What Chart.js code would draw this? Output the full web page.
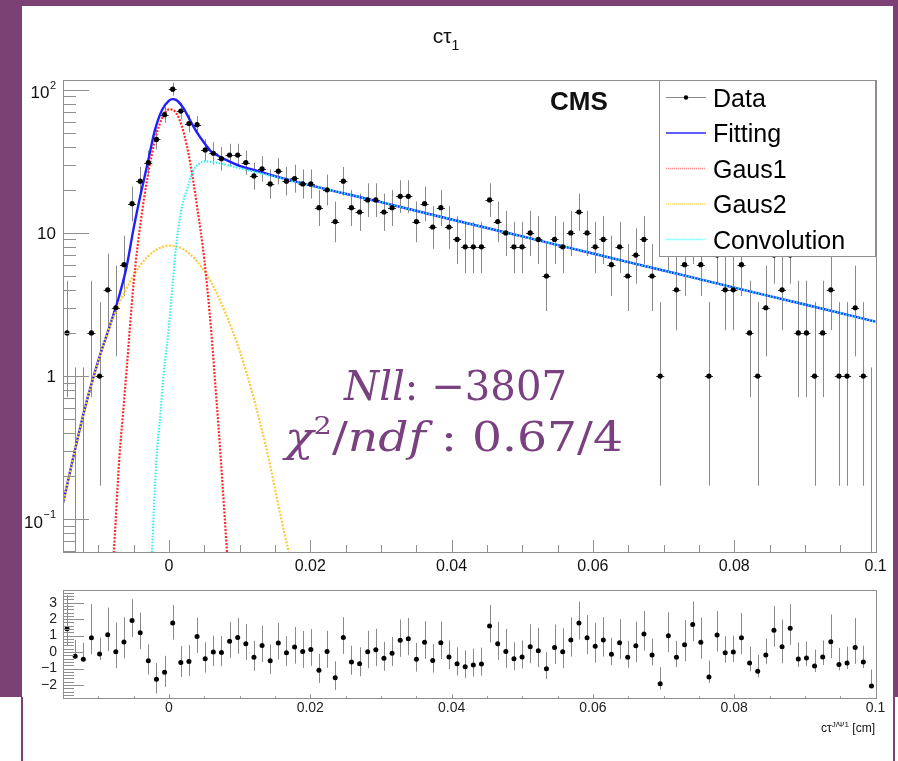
<!DOCTYPE html>
<html>
<head>
<meta charset="utf-8">
<script src="https://cdn.jsdelivr.net/npm/chart.js@4.4.1/dist/chart.umd.min.js"></script>
<style>
  body { margin: 0; width: 898px; height: 761px; overflow: hidden; position: relative; background: #fff; }
  .border { position: absolute; background: #7b4175; }
  canvas { position: absolute; left: 0; }
  #main { top: 0; }
  #pull { top: 586px; }
</style>
</head>
<body>
<div class="border" style="left:0;top:0;width:898px;height:6px"></div>
<div class="border" style="left:0;top:0;width:22px;height:697px"></div>
<div class="border" style="left:893px;top:0;width:5px;height:697px"></div>
<div class="border" style="left:21px;top:697px;width:2px;height:64px"></div>
<div class="border" style="left:893px;top:697px;width:2px;height:64px"></div>
<canvas id="main" width="898" height="586"></canvas>
<canvas id="pull" width="898" height="175"></canvas>
<script>
// binning of the histogram
const xMin = -0.015;
const xMax = 0.1;
const binWidth = 0.00115;

// counts per bin (100 bins)
const counts = [2, 0, 0, 2, 1, 4, 3, 6, 16, 23,
  31, 45, 67, 101, 71, 58, 57, 38, 36, 33,
  35, 35, 31, 25, 28, 22, 27, 23, 24, 22,
  22, 15, 20, 12, 23, 15, 14, 17, 17, 14,
  15, 18, 18, 12, 16, 11, 15, 11, 9, 8,
  8, 8, 17, 12, 10, 8, 8, 10, 9, 5,
  9, 8, 10, 14, 10, 8, 9, 6, 8, 5,
  7, 9, 5, 1, 8, 4, 6, 9, 6, 1,
  7, 4, 4, 6, 2, 1, 3, 7, 4, 7,
  2, 2, 1, 2, 4, 1, 1, 3, 1, 0];

// pull per bin
const pulls = [1.41, -0.26, -0.44, 0.87, -0.12, 1.05, 0.02, 0.61, 1.92, 1.17,
  -0.53, -1.66, -1.23, 1.76, -0.63, -0.57, 0.95, -0.40, 0.00, -0.02,
  0.65, 0.89, 0.51, -0.32, 0.40, -0.53, 0.55, -0.04, 0.30, 0.04,
  0.16, -1.11, 0.04, -1.56, 0.89, -0.61, -0.71, 0.02, 0.14, -0.38,
  -0.08, 0.71, 0.81, -0.44, 0.59, -0.51, 0.57, -0.30, -0.71, -0.89,
  -0.79, -0.73, 1.58, 0.51, 0.04, -0.40, -0.30, 0.32, 0.08, -1.01,
  0.28, 0.02, 0.73, 1.76, 0.87, 0.36, 0.73, -0.14, 0.57, -0.32,
  0.38, 1.09, -0.18, -1.92, 0.99, -0.32, 0.44, 1.68, 0.59, -1.52,
  1.03, -0.04, 0.00, 0.87, -0.67, -1.17, -0.18, 1.33, 0.32, 1.45,
  -0.42, -0.36, -0.85, -0.30, 0.63, -0.75, -0.67, 0.28, -0.61, -2.06];

// curves
const fitX = [-0.015, -0.012, -0.010, -0.008, -0.007, -0.006, -0.005, -0.004, -0.003, -0.002, -0.001, 0, 0.0005, 0.001, 0.002, 0.003, 0.004, 0.005, 0.006, 0.007, 0.008, 0.010, 0.012, 0.015, 0.020, 0.030, 0.040, 0.050, 0.060, 0.070, 0.080, 0.090, 0.100];
const fitY = [0.13, 0.57, 1.28, 2.55, 3.7, 5.8, 10.8, 18.7, 31, 52, 72, 84, 86, 85, 75, 61, 50, 42.5, 37, 34.5, 32.5, 29.4, 27.5, 24.9, 21.5, 16.4, 12.4, 9.45, 7.18, 5.46, 4.15, 3.16, 2.40];

const gaus1X = [-0.0085, -0.0078, -0.007, -0.0065, -0.006, -0.005, -0.004, -0.003, -0.002, -0.001, 0, 0.001, 0.002, 0.003, 0.004, 0.005, 0.006, 0.0065, 0.007, 0.0075, 0.0082, 0.009];
const gaus1Y = [0.02, 0.06, 0.28, 0.55, 1.1, 4.5, 12, 25, 44, 63, 73, 69, 52, 31, 15, 6.5, 2.0, 0.95, 0.45, 0.2, 0.06, 0.015];

const gaus2X = [-0.015, -0.012, -0.010, -0.008, -0.006, -0.004, -0.002, 0, 0.002, 0.004, 0.006, 0.008, 0.010, 0.012, 0.014, 0.016, 0.0175];
const gaus2Y = [0.13, 0.57, 1.28, 2.5, 4.1, 6.0, 7.5, 8.15, 7.7, 6.3, 4.5, 2.75, 1.5, 0.7, 0.28, 0.095, 0.045];

const convX = [-0.0027, -0.0024, -0.0018, -0.0012, -0.0007, -0.0001, 0.00045, 0.001, 0.0017, 0.0026, 0.0034, 0.0043, 0.0051, 0.006, 0.007, 0.008, 0.010, 0.012, 0.015, 0.020, 0.030, 0.040, 0.050, 0.060, 0.070, 0.080, 0.090, 0.100];
const convY = [0.03, 0.06, 0.25, 0.55, 1.1, 2.0, 4.0, 8.0, 14, 20.5, 27, 30.5, 31.6, 31.3, 30.8, 30.0, 28.3, 26.8, 24.7, 21.5, 16.4, 12.4, 9.45, 7.18, 5.46, 4.15, 3.16, 2.40];

// axes
const yMin = 0.059, yMax = 117;
const pullMin = -2.81, pullMax = 3.77;
const xTicks = [0, 0.02, 0.04, 0.06, 0.08, 0.1];
const logTicks = [0.1, 1, 10, 100];
const logTickLabels = [['10', '\u22121'], ['1', ''], ['10', ''], ['10', '2']];
const pullTicks = [-2, -1, 0, 1, 2, 3];
const legendLabels = ['Data', 'Fitting', 'Gaus1', 'Gaus2', 'Convolution'];

const binCenters = counts.map((_, i) => xMin + binWidth * (i + 0.5));
const toXY = (xs, ys) => xs.map((x, i) => ({ x: x, y: ys[i] }));

// Poisson 68% interval (what ROOT draws for event counts)
function poissonInterval(n) {
  if (n === 0) return [0, 1.148];
  const lo = n * Math.pow(1 - 1 / (9 * n) - 1 / (3 * Math.sqrt(n)), 3);
  const m = n + 1;
  const hi = m * Math.pow(1 - 1 / (9 * m) + 1 / (3 * Math.sqrt(m)), 3);
  return [lo, hi];
}

const SANS = '"Liberation Sans", Arial, sans-serif';
const SERIF = '"DejaVu Serif", serif';
Chart.defaults.font.family = SANS;
const FRAME = '#8f8f8f';

function line(ctx, x1, y1, x2, y2) {
  ctx.beginPath(); ctx.moveTo(x1, y1); ctx.lineTo(x2, y2); ctx.stroke();
}
const snap = v => Math.round(v) + 0.5;
const noPad = s => { s.paddingTop = 0; s.paddingBottom = 0; s.paddingLeft = 0; s.paddingRight = 0; };

function drawFrame(chart) {
  const { ctx, chartArea: a } = chart;
  ctx.save();
  ctx.strokeStyle = FRAME;
  ctx.lineWidth = 1;
  ctx.strokeRect(snap(a.left), snap(a.top), Math.round(a.right - a.left), Math.round(a.bottom - a.top));
  ctx.restore();
}

// minor x ticks every 0.005
function xMinorTicks() {
  const out = [];
  for (let k = -2; k <= 19; k++) if (k % 4 !== 0) out.push(k * 0.005);
  return out;
}

// text with italic / superscript pieces, squeezed or stretched to a given width
function drawMath(ctx, pieces, cx, base, size, width) {
  const fontOf = st => st === 'i' ? 'italic ' + size + 'px ' + SERIF
    : st === 's' ? Math.round(size * 0.62) + 'px ' + SERIF
    : size + 'px ' + SERIF;
  let total = 0;
  const widths = pieces.map(([t, st]) => { ctx.font = fontOf(st); const w = ctx.measureText(t).width; total += w; return w; });
  ctx.save();
  ctx.translate(cx - width / 2, base);
  ctx.scale(width / total, 1);
  ctx.textAlign = 'left';
  ctx.textBaseline = 'alphabetic';
  let px = 0;
  pieces.forEach(([t, st], i) => {
    ctx.font = fontOf(st);
    ctx.fillText(t, px, st === 's' ? -size * 0.42 : 0);
    px += widths[i];
  });
  ctx.restore();
}

const mainDecor = {
  id: 'mainDecor',
  beforeDatasetsDraw(chart) {
    const { ctx, chartArea: a, scales: { x, y } } = chart;
    ctx.save();
    ctx.beginPath(); ctx.rect(a.left, a.top, a.right - a.left, a.bottom - a.top); ctx.clip();
    ctx.lineWidth = 1;
    counts.forEach((n, i) => {
      const [lo, hi] = poissonInterval(n);
      const px = snap(x.getPixelForValue(binCenters[i]));
      ctx.strokeStyle = '#8a8a8a';
      line(ctx, px, y.getPixelForValue(hi), px, lo > 0 ? y.getPixelForValue(lo) : a.bottom);
      if (n > 0) {
        const py = snap(y.getPixelForValue(n));
        ctx.strokeStyle = '#333';
        line(ctx, x.getPixelForValue(binCenters[i] - binWidth / 2), py, x.getPixelForValue(binCenters[i] + binWidth / 2), py);
      }
    });
    ctx.restore();
  },
  afterDatasetsDraw(chart) {
    const { ctx } = chart;
    // legend box
    const bx = 659.5, by = 80.5, bw = 216, bh = 176;
    ctx.save();
    ctx.fillStyle = '#fff';
    ctx.fillRect(bx, by, bw, bh);
    ctx.strokeStyle = FRAME;
    ctx.lineWidth = 1;
    ctx.strokeRect(bx, by, bw, bh);
    const rows = [97.5, 133, 168.5, 204, 239.5];
    const styles = [
      { c: '#8a8a8a', w: 1, d: [] },
      { c: '#2a2aff', w: 1.6, d: [] },
      { c: '#ff8c8c', w: 1.6, d: [1, 1] },
      { c: '#ffdb6e', w: 1.6, d: [1, 1] },
      { c: '#8ef4f4', w: 1.6, d: [1, 1] }
    ];
    legendLabels.forEach((lab, i) => {
      const s = styles[i];
      ctx.strokeStyle = s.c; ctx.lineWidth = s.w; ctx.setLineDash(s.d);
      line(ctx, 666, rows[i], 706, rows[i]);
      ctx.setLineDash([]);
      if (i === 0) {
        ctx.fillStyle = '#000';
        ctx.beginPath(); ctx.arc(686, rows[i], 2.2, 0, Math.PI * 2); ctx.fill();
      }
      ctx.fillStyle = '#000';
      ctx.font = '25px ' + SANS;
      ctx.textBaseline = 'alphabetic';
      ctx.textAlign = 'left';
      ctx.fillText(lab, 713, rows[i] + 9);
    });
    ctx.restore();
  },
  afterDraw(chart) {
    const { ctx, chartArea: a, scales: { x, y } } = chart;
    ctx.save();
    ctx.strokeStyle = FRAME;
    ctx.lineWidth = 1;
    // x ticks (inside frame)
    xTicks.forEach(v => { const px = snap(x.getPixelForValue(v)); line(ctx, px, a.bottom, px, a.bottom - 12); });
    xMinorTicks().forEach(v => { const px = snap(x.getPixelForValue(v)); line(ctx, px, a.bottom, px, a.bottom - 7); });
    // y ticks (log)
    logTicks.forEach(v => { const py = snap(y.getPixelForValue(v)); line(ctx, a.left, py, a.left + 26, py); });
    [0.01, 0.1, 1, 10, 100].forEach(dec => {
      for (let m = 2; m <= 9; m++) {
        const v = m * dec;
        if (v < yMin || v > yMax) continue;
        const py = snap(y.getPixelForValue(v));
        line(ctx, a.left, py, a.left + 13, py);
      }
    });
    // y labels with superscripts
    ctx.fillStyle = '#111';
    ctx.textBaseline = 'middle';
    ctx.textAlign = 'right';
    logTicks.forEach((v, i) => {
      const py = y.getPixelForValue(v);
      const [base, sup] = logTickLabels[i];
      let right = 56;
      if (sup) {
        ctx.font = '11px ' + SANS;
        ctx.fillText(sup, right, py - 4);
        right -= ctx.measureText(sup).width + 0.5;
        ctx.font = '17px ' + SANS;
        ctx.fillText(base, right, py + 4);
      } else {
        ctx.font = '17px ' + SANS;
        ctx.fillText(base, right, py + 1);
      }
    });
    // title
    ctx.textBaseline = 'alphabetic';
    ctx.textAlign = 'left';
    ctx.font = '21px ' + SANS;
    const tw = ctx.measureText('c\u03c4').width;
    ctx.font = '14px ' + SANS;
    const sw = ctx.measureText('1').width;
    const tx = 446 - (tw + sw) / 2;
    ctx.font = '21px ' + SANS;
    ctx.fillText('c\u03c4', tx, 43);
    ctx.font = '14px ' + SANS;
    ctx.fillText('1', tx + tw, 50);
    // CMS
    ctx.font = 'bold 26px ' + SANS;
    ctx.fillText('CMS', 550, 109.5);
    // fit statistics
    ctx.fillStyle = '#7a4181';
    drawMath(ctx, [['Nll', 'i'], [':', 'n'], [' \u22123807', 'n']], 455.5, 400, 41, 223);
    drawMath(ctx, [['\u03c7', 'i'], ['2', 's'], ['/', 'n'], ['ndf', 'i'], [' : ', 'n'], ['0.67/4', 'n']], 454, 451, 41, 338);
    ctx.restore();
    drawFrame(chart);
  }
};

const pullDecor = {
  id: 'pullDecor',
  beforeDatasetsDraw(chart) {
    const { ctx, chartArea: a, scales: { x, y } } = chart;
    ctx.save();
    ctx.beginPath(); ctx.rect(a.left, a.top, a.right - a.left, a.bottom - a.top); ctx.clip();
    ctx.strokeStyle = '#8a8a8a';
    ctx.lineWidth = 1;
    pulls.forEach((p, i) => {
      const n = counts[i];
      const [lo, hi] = poissonInterval(n);
      const eLo = n - lo, eHi = hi - n;
      let up, dn;
      if (p > 0) { dn = 1; up = eHi / eLo; } else { up = 1; dn = eLo / eHi; }
      const px = snap(x.getPixelForValue(binCenters[i]));
      line(ctx, px, y.getPixelForValue(p + up), px, y.getPixelForValue(p - dn));
    });
    ctx.restore();
  },
  afterDraw(chart) {
    const { ctx, chartArea: a, scales: { x, y } } = chart;
    ctx.save();
    ctx.strokeStyle = FRAME;
    ctx.lineWidth = 1;
    xTicks.forEach(v => { const px = snap(x.getPixelForValue(v)); line(ctx, px, a.bottom, px, a.bottom - 4); });
    xMinorTicks().forEach(v => { const px = snap(x.getPixelForValue(v)); line(ctx, px, a.bottom, px, a.bottom - 2); });
    pullTicks.forEach(v => { const py = snap(y.getPixelForValue(v)); line(ctx, a.left, py, a.left + 21, py); });
    for (let k = -14; k <= 18; k++) {
      if (k % 5 === 0) continue;
      const v = k * 0.2;
      if (v < pullMin || v > pullMax) continue;
      const py = snap(y.getPixelForValue(v));
      line(ctx, a.left, py, a.left + 11, py);
    }
    // axis title  c tau^{J/Psi1} [cm]
    ctx.fillStyle = '#111';
    ctx.textAlign = 'left';
    ctx.textBaseline = 'alphabetic';
    const parts = [['c\u03c4', 12, 0], ['J/\u03a81', 8, -5], [' [cm]', 12, 0]];
    let total = 0;
    const ws = parts.map(([t, s]) => { ctx.font = s + 'px ' + SANS; const w = ctx.measureText(t).width; total += w; return w; });
    let px = 875 - total;
    parts.forEach(([t, s, dy], i) => { ctx.font = s + 'px ' + SANS; ctx.fillText(t, px, a.bottom + 33.5 + dy); px += ws[i]; });
    ctx.restore();
    drawFrame(chart);
  }
};

const curve = (label, xs, ys, color, dash, width) => ({
  label: label,
  data: toXY(xs, ys),
  showLine: true,
  borderColor: color,
  borderWidth: width,
  borderDash: dash,
  pointRadius: 0,
  cubicInterpolationMode: 'monotone'
});

new Chart(document.getElementById('main'), {
  type: 'scatter',
  data: {
    datasets: [
      {
        label: 'Data',
        data: counts.map((n, i) => ({ x: binCenters[i], y: n > 0 ? n : null })),
        pointRadius: 2.6,
        pointBackgroundColor: '#000',
        pointBorderWidth: 0
      },
      curve('Convolution', convX, convY, '#36eef2', [1.5, 1.5], 2.2),
      curve('Gaus1', gaus1X, gaus1Y, '#ff2b2b', [2, 1.5], 2.2),
      curve('Gaus2', gaus2X, gaus2Y, '#ffc93c', [2, 1.5], 2.2),
      curve('Fitting', fitX, fitY, '#1f1fff', [], 2.4)
    ]
  },
  options: {
    responsive: false,
    animation: false,
    events: [],
    layout: { padding: { left: 63, top: 80, right: 22.5, bottom: 0 } },
    plugins: { legend: { display: false }, tooltip: { enabled: false } },
    scales: {
      x: {
        type: 'linear', min: xMin, max: xMax,
        afterBuildTicks: s => { s.ticks = xTicks.map(v => ({ value: v })); },
        afterFit: s => { s.height = 34; noPad(s); },
        grid: { display: false, drawTicks: false },
        border: { display: false },
        ticks: { autoSkip: false, maxRotation: 0, padding: 5, color: '#111', font: { size: 16 }, callback: v => String(v) }
      },
      y: { type: 'logarithmic', min: yMin, max: yMax, display: false }
    }
  },
  plugins: [mainDecor]
});

new Chart(document.getElementById('pull'), {
  type: 'scatter',
  data: {
    datasets: [{
      label: 'Pull',
      data: pulls.map((p, i) => ({ x: binCenters[i], y: p })),
      pointRadius: 2.5,
      pointBackgroundColor: '#000',
      pointBorderWidth: 0
    }]
  },
  options: {
    responsive: false,
    animation: false,
    events: [],
    layout: { padding: { left: 0, top: 0, right: 22.5, bottom: 0 } },
    plugins: { legend: { display: false }, tooltip: { enabled: false } },
    scales: {
      x: {
        type: 'linear', min: xMin, max: xMax,
        afterBuildTicks: s => { s.ticks = xTicks.map(v => ({ value: v })); },
        afterFit: s => { s.height = 62.7; noPad(s); },
        grid: { display: false, drawTicks: false },
        border: { display: false },
        ticks: { autoSkip: false, maxRotation: 0, padding: 1, color: '#222', font: { size: 14 }, callback: v => String(v) }
      },
      y: {
        type: 'linear', min: pullMin, max: pullMax,
        afterBuildTicks: s => { s.ticks = pullTicks.map(v => ({ value: v })); },
        afterFit: s => { s.width = 63; noPad(s); },
        grid: { display: false, drawTicks: false },
        border: { display: false },
        ticks: { autoSkip: false, padding: 6, color: '#222', font: { size: 14 }, callback: v => String(v).replace('-', '\u2212') }
      }
    }
  },
  plugins: [pullDecor]
});
</script>
</body>
</html>
